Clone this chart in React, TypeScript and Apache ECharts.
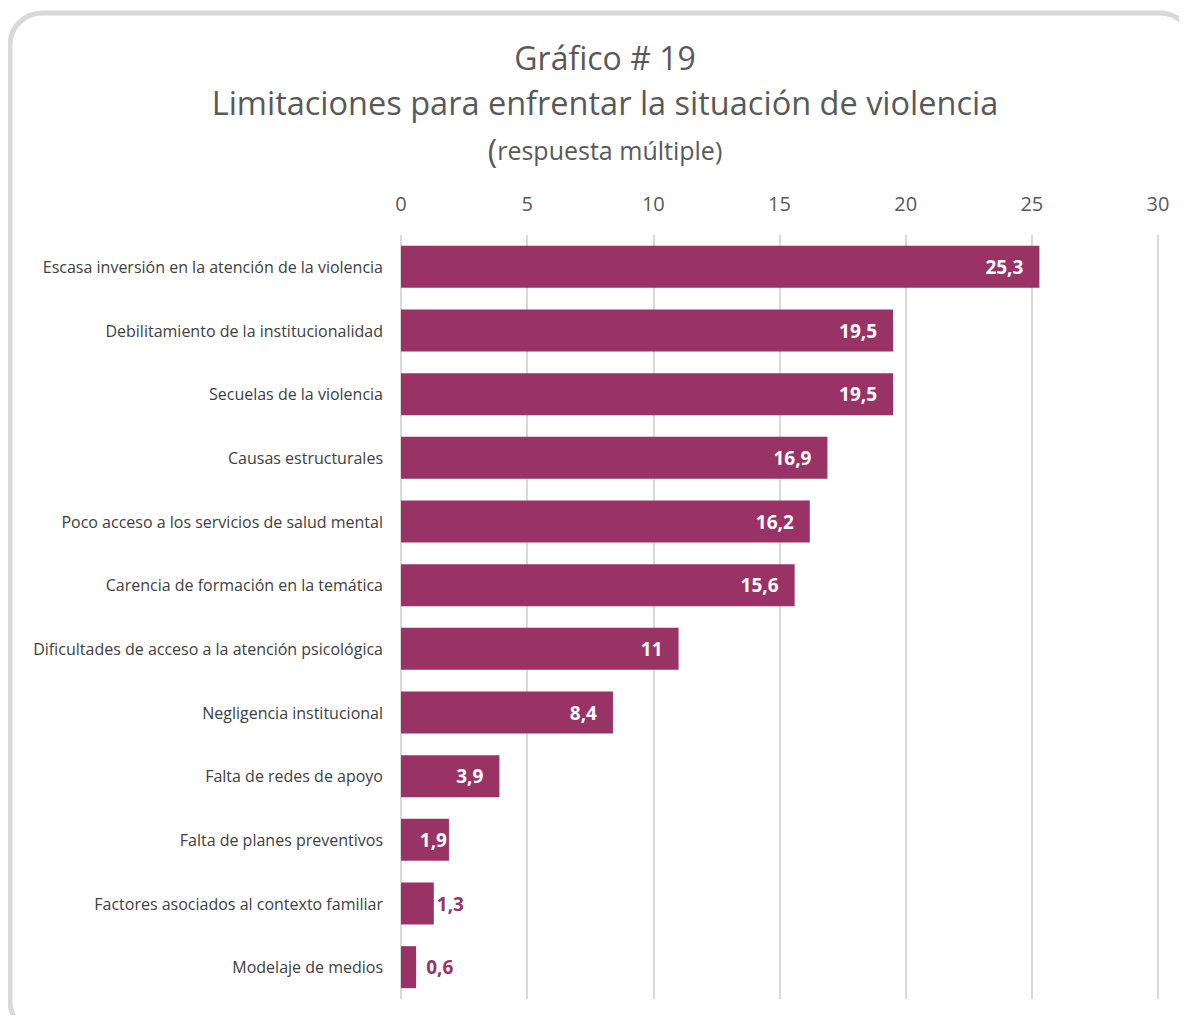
import React, { useEffect, useRef } from "react";
import * as echarts from "echarts";

const categories = [
  "Escasa inversión en la atención de la violencia",
  "Debilitamiento de la institucionalidad",
  "Secuelas de la violencia",
  "Causas estructurales",
  "Poco acceso a los servicios de salud mental",
  "Carencia de formación en la temática",
  "Dificultades de acceso a la atención psicológica",
  "Negligencia institucional",
  "Falta de redes de apoyo",
  "Falta de planes preventivos",
  "Factores asociados al contexto familiar",
  "Modelaje de medios",
];
const values = [25.3, 19.5, 19.5, 16.9, 16.2, 15.6, 11, 8.4, 3.9, 1.9, 1.3, 0.6];
const outsideLabelMin = 1.5;

const BAR = "#993366";
const FONT = "'Open Sans', 'Noto Sans', sans-serif";

export default function App() {
  const ref = useRef<HTMLDivElement>(null);
  useEffect(() => {
    if (!ref.current) return;
    const chart = echarts.init(ref.current, null, { renderer: "svg" });
    const fmt = (v: number) => String(v).replace(".", ",");
    chart.setOption({
      animation: false,
      textStyle: { fontFamily: FONT },
      graphic: [
        {
          type: "rect",
          shape: { x: 10, y: 13, width: 1182, height: 1020, r: 32 },
          style: { fill: "#ffffff", stroke: "#d9d9d9", lineWidth: 5 },
          z: -10,
        },
        {
          type: "text",
          x: 605,
          y: 57,
          style: {
            text: "Gráfico # 19",
            font: `32px ${FONT}`,
            fill: "#595959",
            align: "center",
            verticalAlign: "middle",
          },
        },
        {
          type: "text",
          x: 605,
          y: 102,
          style: {
            text: "Limitaciones para enfrentar la situación de violencia",
            font: `32.5px ${FONT}`,
            fill: "#595959",
            align: "center",
            verticalAlign: "middle",
          },
        },
        {
          type: "text",
          x: 605,
          y: 150,
          style: {
            text: "{b|(}{s|respuesta múltiple)}",
            fill: "#595959",
            align: "center",
            verticalAlign: "middle",
            rich: {
              b: { fontSize: 32, fontFamily: FONT, color: "#595959" },
              s: { fontSize: 25, fontFamily: FONT, color: "#595959" },
            },
          },
        },
      ],
      grid: { left: 401, right: 29, top: 235, height: 764, containLabel: false },
      xAxis: {
        type: "value",
        position: "top",
        min: 0,
        max: 30,
        interval: 5,
        axisLine: { show: false },
        axisTick: { show: false },
        axisLabel: { color: "#595959", fontSize: 20, margin: 22, fontFamily: FONT },
        splitLine: { show: true, lineStyle: { color: "#d9d9d9", width: 2 } },
      },
      yAxis: {
        type: "category",
        inverse: true,
        data: categories,
        axisLine: { show: false },
        axisTick: { show: false },
        axisLabel: { color: "#404040", fontSize: 16, margin: 18, fontFamily: FONT },
      },
      series: [
        {
          type: "bar",
          data: values.map((v) => ({
            value: v,
            label:
              v < outsideLabelMin
                ? {
                    position: "right",
                    color: BAR,
                    distance: v < 1 ? 10 : 3,
                  }
                : {
                    position: "insideRight",
                    color: "#ffffff",
                    distance: v < 3 ? 2 : 16,
                  },
          })),
          barWidth: 42,
          itemStyle: { color: BAR },
          label: {
            show: true,
            fontSize: 19,
            fontWeight: "bold",
            fontFamily: FONT,
            formatter: (p: any) => fmt(p.value),
          },
        },
      ],
    });
    return () => chart.dispose();
  }, []);
  return <div ref={ref} style={{ width: 1187, height: 1023, margin: -8 }} />;
}
